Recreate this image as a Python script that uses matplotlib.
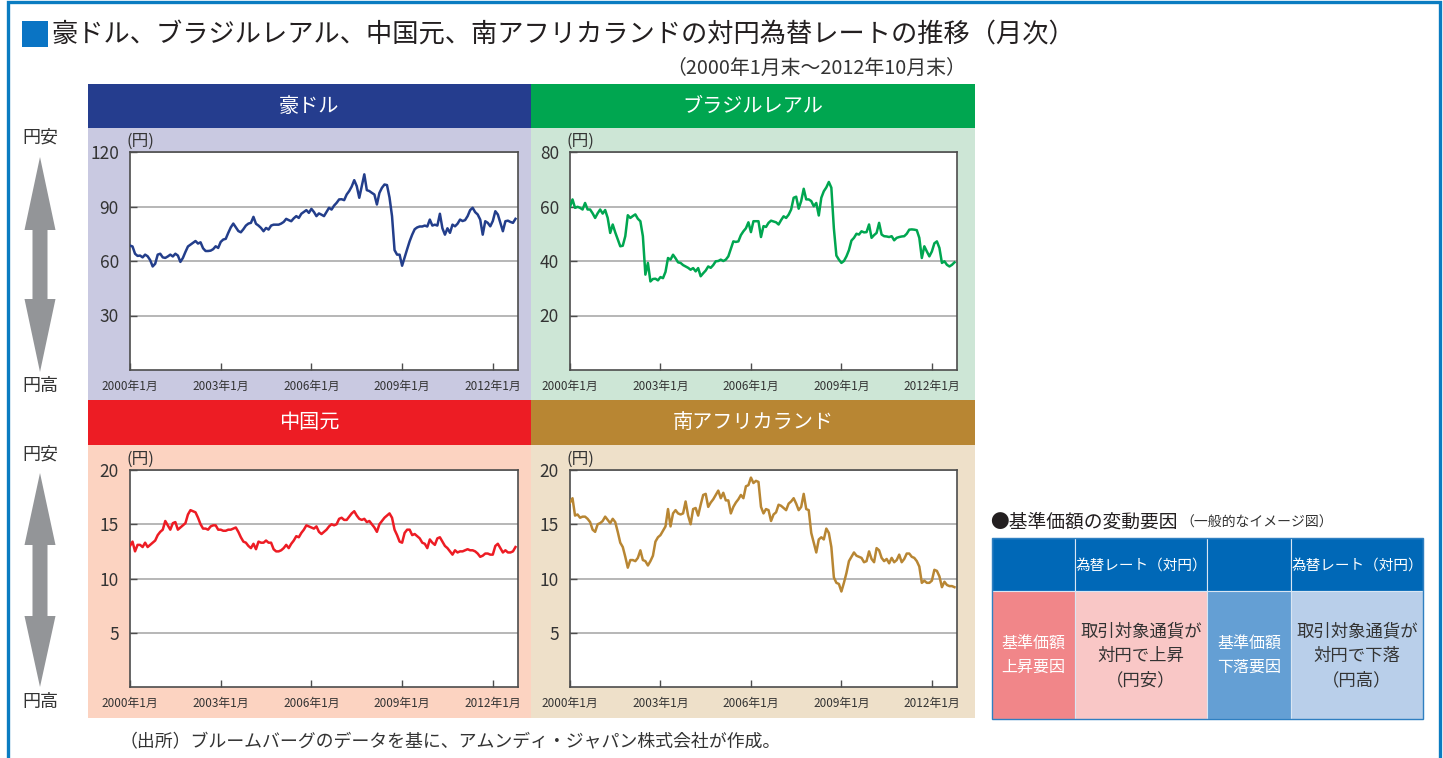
import numpy as np
import matplotlib
matplotlib.use("Agg")
import matplotlib.pyplot as plt
from matplotlib.patches import Rectangle, Polygon

plt.rcParams["font.family"] = ["Noto Sans CJK JP", "DejaVu Sans"]

W, H = 1443, 758

# monthly end-of-month rates, Jan 2000 .. Oct 2012 (yen per unit)
aud = [
    68.5, 68.0, 64.0, 62.8, 63.0, 62.0, 63.5, 62.6, 60.5, 57.0, 58.5, 63.5,
    64.0, 62.0, 61.7, 62.5, 63.5, 62.5, 64.0, 63.0, 59.5, 61.7, 65.0, 68.0,
    69.0, 70.0, 71.0, 69.6, 70.3, 67.0, 65.5, 65.5, 65.7, 66.5, 68.1, 67.2,
    70.5, 71.8, 72.2, 75.5, 78.5, 80.6, 78.5, 76.5, 75.8, 77.5, 79.5, 80.6,
    81.0, 84.3, 80.5, 79.5, 78.2, 76.4, 78.2, 77.3, 79.5, 80.0, 80.0, 80.0,
    80.6, 81.5, 83.2, 82.5, 81.9, 83.5, 84.7, 83.7, 86.0, 87.0, 88.0, 86.5,
    88.7, 87.0, 84.7, 86.2, 85.5, 84.7, 87.0, 89.3, 88.3, 90.5, 92.0, 93.9,
    94.0, 93.5, 96.6, 98.5, 101.0, 104.5, 101.2, 94.8, 101.2, 107.7, 99.0, 98.5,
    97.5, 96.6, 91.1, 97.5, 100.3, 102.1, 101.8, 95.0, 84.7, 66.0, 63.5, 63.5,
    57.4, 62.0, 66.5, 70.9, 74.5, 77.5, 78.5, 79.0, 79.0, 79.5, 79.0, 82.8,
    79.5, 80.0, 79.5, 86.0, 78.0, 74.5, 78.0, 75.5, 80.0, 79.1, 80.5, 82.8,
    82.0, 82.5, 84.7, 88.0, 89.3, 86.9, 85.6, 82.8, 74.5, 81.9, 81.0, 79.1,
    82.0, 87.4, 85.6, 81.0, 76.4, 81.9, 82.2, 81.5, 81.0, 83.2,
]
brl = [
    59.9, 62.6, 59.5, 59.9, 59.5, 58.9, 61.3, 58.9, 58.9, 57.5, 55.8, 57.5,
    58.9, 57.4, 58.7, 55.8, 50.3, 53.4, 50.5, 47.9, 45.4, 45.6, 49.1, 56.8,
    55.8, 56.5, 57.1, 55.5, 54.6, 49.1, 35.0, 39.3, 32.5, 33.4, 33.5, 32.9,
    34.1, 33.7, 36.0, 41.1, 40.5, 42.3, 41.0, 39.5, 39.3, 38.5, 38.0, 37.5,
    36.8, 37.4, 36.2, 37.4, 34.4, 35.5, 36.5, 38.0, 37.5, 38.5, 39.9, 40.0,
    40.5, 40.0, 40.5, 41.7, 44.5, 47.2, 47.0, 47.2, 49.5, 50.9, 52.0, 54.2,
    50.6, 54.6, 54.6, 54.6, 48.8, 52.8, 52.5, 54.0, 54.8, 54.5, 54.2, 53.4,
    55.0, 56.4, 55.8, 57.0, 58.9, 63.2, 63.6, 59.2, 62.0, 66.5, 62.6, 62.6,
    62.0, 60.1, 61.3, 56.7, 63.2, 65.6, 67.0, 69.0, 66.9, 52.0, 42.0, 40.5,
    39.3, 40.0, 41.7, 44.0, 47.5, 48.5, 50.0, 49.7, 50.9, 50.5, 50.6, 53.4,
    48.5, 49.5, 50.3, 54.0, 49.7, 49.1, 49.0, 48.8, 49.1, 47.6, 48.5, 48.8,
    49.0, 49.1, 50.0, 51.5, 51.6, 51.5, 51.3, 48.5, 41.1, 45.4, 43.5, 41.7,
    43.5, 46.5, 47.2, 44.8, 39.3, 39.9, 38.6, 38.0, 38.6, 39.5,
]
cny = [
    13.0, 13.4, 12.5, 13.1, 13.1, 12.9, 13.3, 12.9, 13.1, 13.3, 13.5, 14.0,
    14.3, 14.5, 15.3, 14.9, 14.5, 15.1, 15.2, 14.5, 14.7, 14.9, 15.1, 15.9,
    16.3, 16.2, 16.1, 15.6, 15.0, 14.6, 14.6, 14.5, 14.8, 14.9, 14.9, 14.5,
    14.5, 14.4, 14.4, 14.5, 14.5, 14.6, 14.7, 14.3, 13.8, 13.4, 13.3, 13.0,
    12.8, 13.2, 12.7, 13.4, 13.3, 13.3, 13.5, 13.3, 13.3, 12.7, 12.5, 12.5,
    12.6, 12.8, 13.1, 12.8, 13.2, 13.5, 13.9, 13.8, 14.2, 14.5, 14.9, 14.8,
    14.7, 14.6, 14.8, 14.3, 14.1, 14.3, 14.5, 14.8, 15.0, 14.9, 15.0, 15.5,
    15.6, 15.4, 15.4, 15.7, 16.0, 16.2, 15.8, 15.5, 15.4, 15.5, 15.2, 15.3,
    15.0, 14.7, 14.3, 15.0, 15.3, 15.6, 15.8, 16.0, 15.6, 14.5, 14.0, 13.4,
    13.3, 14.2, 14.5, 14.5, 14.0, 14.1, 13.9, 13.7, 13.3, 13.2, 12.8, 13.6,
    13.3, 13.1, 13.7, 13.8, 13.4, 13.0, 12.8, 12.5, 12.2, 12.6, 12.4, 12.5,
    12.5, 12.6, 12.7, 12.6, 12.6, 12.5, 12.3, 12.0, 12.1, 12.3, 12.3, 12.2,
    12.2, 13.0, 13.2, 12.8, 12.4, 12.6, 12.4, 12.4, 12.5, 12.9,
]
zar = [
    17.0, 17.4, 15.8, 15.9, 15.6, 15.7, 15.7, 15.5, 15.2, 14.5, 14.3, 15.0,
    15.1, 15.3, 15.7, 15.4, 15.1, 15.5, 15.2, 14.3, 13.3, 12.9, 12.0, 11.0,
    11.7, 11.7, 11.6, 11.9, 12.6, 11.7, 11.6, 11.2, 11.6, 12.1, 13.4, 13.8,
    14.0, 14.4, 14.8, 16.4, 14.8, 16.0, 16.3, 16.0, 15.9, 16.0, 17.1, 15.8,
    15.0, 16.4, 16.5, 15.8, 16.8, 17.7, 17.8, 16.6, 17.0, 17.3, 17.7, 18.1,
    17.4, 17.9, 17.2, 17.2, 16.0, 16.6, 17.0, 17.3, 17.7, 17.4, 18.5, 18.6,
    19.3, 18.8, 19.0, 18.9, 16.6, 16.0, 16.4, 16.3, 15.3, 15.9, 16.1, 16.8,
    16.7, 16.5, 16.3, 16.9, 17.1, 17.4, 16.9, 16.3, 16.6, 17.8, 16.4, 16.3,
    14.2, 13.3, 12.4, 13.6, 13.8, 13.6, 14.6, 14.2, 12.9, 10.1, 9.6, 9.5,
    8.8, 9.6, 10.5, 11.6, 12.0, 12.4, 12.1, 12.0, 11.9, 11.5, 11.6, 12.5,
    11.8, 11.5, 12.8, 12.6, 11.9, 11.6, 11.8, 11.4, 11.9, 11.5, 11.7, 12.2,
    11.5, 11.8, 12.3, 12.3, 12.0, 11.9, 11.6, 11.1, 9.6, 9.8, 9.6, 9.6,
    9.8, 10.8, 10.7, 10.2, 9.2, 9.7, 9.4, 9.3, 9.3, 9.2,
]

currency_names = ["豪ドル", "ブラジルレアル", "中国元", "南アフリカランド"]
y_limits = [120, 80, 20, 20]
y_ticks = [[30, 60, 90, 120], [20, 40, 60, 80], [5, 10, 15, 20], [5, 10, 15, 20]]
x_tick_months = [0, 36, 72, 108, 144]
x_tick_labels = ["2000年1月", "2003年1月", "2006年1月", "2009年1月", "2012年1月"]

TEXT = "#333333"
BORDER = "#0a7cc1"
ARROW = "#939598"

# panel styles: header colour, background, line colour
styles = [
    ("#253d8e", "#c9c9e1", "#233e8b"),
    ("#00a650", "#cde6d6", "#00a650"),
    ("#ed1c24", "#fcd3c1", "#ed1c24"),
    ("#b88633", "#eee0c9", "#b88633"),
]
# pixel boxes: (panel_x0, panel_x1, header_y0, header_y1, panel_y1, ax_x0, ax_x1, ax_y0, ax_y1)
boxes = [
    (88, 531, 84, 128, 400, 130, 518, 152, 370),
    (531, 975, 84, 128, 400, 570, 957, 152, 370),
    (88, 531, 400, 445, 718, 130, 518, 470, 687),
    (531, 975, 400, 445, 718, 570, 957, 470, 687),
]


def frac(x0, y0, x1, y1):
    return [x0 / W, 1 - y1 / H, (x1 - x0) / W, (y1 - y0) / H]


fig = plt.figure(figsize=(W / 100, H / 100), dpi=100)
fig.patch.set_facecolor("white")

bg = fig.add_axes([0, 0, 1, 1], zorder=0)
bg.set_xlim(0, W)
bg.set_ylim(H, 0)
bg.axis("off")

# outer frame (open at the bottom)
bg.plot([7.5, 7.5, 1440, 1440], [H, 1.5, 1.5, H], color=BORDER, lw=2.4,
        solid_joinstyle="miter")

# title
bg.add_patch(Rectangle((22, 21), 26, 26, color="#0a74c4", lw=0))
bg.text(51, 35, "豪ドル、ブラジルレアル、中国元、南アフリカランドの対円為替レートの推移（月次）",
        fontsize=18.9, color="#231f20", va="center", ha="left")
bg.text(966, 68, "（2000年1月末～2012年10月末）", fontsize=14.3, color=TEXT,
        va="center", ha="right")

series = [aud, brl, cny, zar]
for i, vals in enumerate(series):
    hdr, back, line = styles[i]
    px0, px1, hy0, hy1, py1, ax0, ax1, ay0, ay1 = boxes[i]
    bg.add_patch(Rectangle((px0, hy0), px1 - px0, hy1 - hy0, color=hdr, lw=0))
    bg.add_patch(Rectangle((px0, hy1), px1 - px0, py1 - hy1, color=back, lw=0))
    bg.text((px0 + px1) / 2, (hy0 + hy1) / 2, currency_names[i], color="white",
            fontsize=14.5, ha="center", va="center")
    bg.text(ax0 - 3, ay0 - 2, "(円)", fontsize=12, color=TEXT, ha="left", va="bottom")

    ax = fig.add_axes(frac(ax0, ay0, ax1, ay1), zorder=2)
    ax.set_facecolor("white")
    months = np.arange(len(vals))
    ax.plot(months, vals, color=line, lw=1.8, zorder=3)
    ax.set_xlim(0, 154)
    ax.set_ylim(0, y_limits[i])
    ax.set_yticks(y_ticks[i])
    ax.set_yticklabels([str(t) for t in y_ticks[i]])
    ax.set_xticks(x_tick_months)
    ax.set_xticklabels(x_tick_labels)
    ax.grid(axis="y", color="#a3a3a3", lw=1.1)
    ax.set_axisbelow(True)
    ax.tick_params(axis="y", direction="in", length=5, width=1.0, color="#4d4d4d",
                   labelsize=12.5, labelcolor=TEXT, pad=8)
    ax.tick_params(axis="x", direction="in", length=5, width=1.0, color="#4d4d4d",
                   labelsize=8.5, labelcolor=TEXT, pad=7)
    for s in ax.spines.values():
        s.set_color("#4d4d4d")
        s.set_linewidth(1.2)

# yen-weak / yen-strong double arrows on the left
for top_lbl, tip0, base0, base1, tip1, bot_lbl in [(138, 157, 230, 299, 372, 386),
                                                   (455, 473, 545, 616, 687, 702)]:
    cx, hw, sw = 40, 15.5, 7.5
    pts = [(cx, tip0), (cx + hw, base0), (cx + sw, base0), (cx + sw, base1),
           (cx + hw, base1), (cx, tip1), (cx - hw, base1), (cx - sw, base1),
           (cx - sw, base0), (cx - hw, base0)]
    bg.add_patch(Polygon(pts, closed=True, color=ARROW, lw=0))
    bg.text(cx, top_lbl, "円安", fontsize=13, color=TEXT, ha="center", va="center")
    bg.text(cx, bot_lbl, "円高", fontsize=13, color=TEXT, ha="center", va="center")

# source note
bg.text(120, 742, "（出所）ブルームバーグのデータを基に、アムンディ・ジャパン株式会社が作成。",
        fontsize=12.9, color=TEXT, ha="left", va="center")

# factor table
bg.text(990, 522, "●基準価額の変動要因", fontsize=13.5, color="#231f20", ha="left", va="center")
bg.text(1180, 523, "（一般的なイメージ図）", fontsize=10, color=TEXT, ha="left", va="center")
col_x = [992, 1075, 1207, 1291, 1423]
head_y0, head_y1, body_y1 = 538, 591, 719
body_colors = ["#f18689", "#f9c7c6", "#649fd4", "#b9cfea"]
body_text = ["基準価額\n上昇要因", "取引対象通貨が\n対円で上昇\n（円安）",
             "基準価額\n下落要因", "取引対象通貨が\n対円で下落\n（円高）"]
body_text_color = ["white", TEXT, "white", TEXT]
body_size = [11.5, 12.5, 11.5, 12.5]
head_text = ["", "為替レート（対円）", "", "為替レート（対円）"]
for j in range(4):
    x0, x1 = col_x[j], col_x[j + 1]
    bg.add_patch(Rectangle((x0, head_y0), x1 - x0, head_y1 - head_y0,
                           facecolor="#0068b7", edgecolor="#d9e6f3", lw=0.8))
    bg.add_patch(Rectangle((x0, head_y1), x1 - x0, body_y1 - head_y1,
                           facecolor=body_colors[j], edgecolor="#d9e6f3", lw=0.8))
    cx = (x0 + x1) / 2
    if head_text[j]:
        bg.text(cx, (head_y0 + head_y1) / 2 + 1, head_text[j], color="white",
                fontsize=10.5, ha="center", va="center")
    bg.text(cx, (head_y1 + body_y1) / 2 + 1, body_text[j], color=body_text_color[j],
            fontsize=body_size[j], ha="center", va="center", linespacing=1.45)
bg.add_patch(Rectangle((col_x[0], head_y0), col_x[-1] - col_x[0], body_y1 - head_y0,
                       facecolor="none", edgecolor="#2f7fc1", lw=1.0))

fig.savefig("out.png", dpi=100, facecolor="white")
